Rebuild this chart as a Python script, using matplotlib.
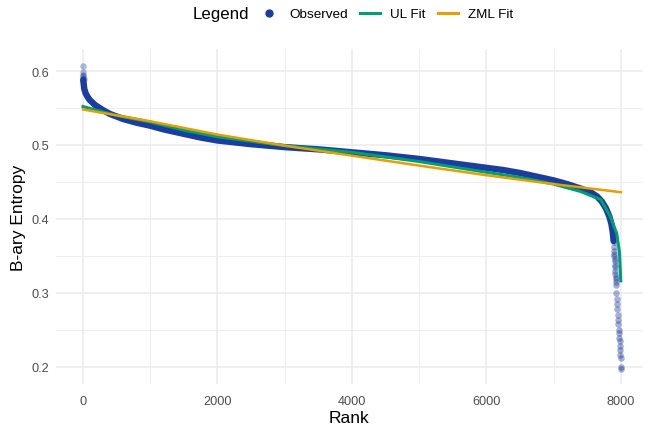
import numpy as np
import matplotlib
matplotlib.use("Agg")
import matplotlib.pyplot as plt
from matplotlib.lines import Line2D
from matplotlib.ticker import MultipleLocator

plt.rcParams['font.family'] = ['Liberation Sans', 'DejaVu Sans']

#------------------------------------------------------------------------------
# Data: ranked B-ary entropy values and the two fitted curves
#------------------------------------------------------------------------------
# sparse head of the observed curve (top ranks)
head_rank = [1, 3, 5, 6, 8, 10]
head_val = [0.607, 0.598, 0.595, 0.593, 0.591, 0.589]

# dense body of the observed curve
body_rank = [5, 20, 40, 70, 100, 180, 300, 400, 600, 800, 1000, 1200, 1500,
             1750, 2000, 2500, 3000, 3500, 4000, 4500, 5000, 5500, 6000,
             6250, 6500, 6750, 7000, 7200, 7400, 7550, 7650, 7720, 7780,
             7830, 7860, 7880, 7893]
body_val = [0.588, 0.576, 0.570, 0.565, 0.561, 0.554, 0.547, 0.542, 0.535,
            0.530, 0.526, 0.521, 0.515, 0.510, 0.506, 0.501, 0.497, 0.494,
            0.490, 0.486, 0.481, 0.475, 0.469, 0.466, 0.462, 0.457, 0.452,
            0.447, 0.441, 0.436, 0.430, 0.423, 0.414, 0.403, 0.393, 0.382,
            0.370]

# sparse tail of the observed curve (lowest ranks)
tail_rank = [7895, 7898, 7900, 7903, 7905, 7908, 7910, 7913, 7915, 7918,
             7920, 7923, 7925, 7928, 7930, 7935, 7940, 7945, 7950, 7955,
             7960, 7965, 7970, 7975, 7980, 7985, 7990, 7993, 7995, 7997,
             7999, 8000]
tail_val = [0.368, 0.362, 0.357, 0.353, 0.350, 0.346, 0.343, 0.338, 0.335,
            0.330, 0.325, 0.321, 0.318, 0.314, 0.310, 0.300, 0.292, 0.285,
            0.278, 0.270, 0.263, 0.257, 0.250, 0.245, 0.238, 0.234, 0.228,
            0.222, 0.216, 0.212, 0.200, 0.197]

ul_rank = [1, 200, 500, 1000, 1500, 2000, 3000, 4000, 5000, 6000, 6500, 7000,
           7400, 7700, 7840, 7940, 7980, 8000]
ul_val = [0.552, 0.547, 0.540, 0.531, 0.520, 0.511, 0.499, 0.490, 0.4775,
          0.463, 0.456, 0.447, 0.437, 0.426, 0.404, 0.380, 0.355, 0.316]

zml_rank = [1, 500, 1000, 1500, 2000, 3000, 4000, 5000, 6000, 7000, 8000]
zml_val = [0.548, 0.540, 0.532, 0.523, 0.514, 0.499, 0.4855, 0.472, 0.459,
           0.447, 0.436]

col_obs = '#1A3D9E'
col_ul = '#009E73'
col_zml = '#E69F00'

#------------------------------------------------------------------------------
# Figure
#------------------------------------------------------------------------------
W, H = 645, 427
fig = plt.figure(figsize=(W/100, H/100), dpi=100)
ax = fig.add_axes([56/W, 1-385/H, 587/W, 335/H])

ax.plot(body_rank, body_val, color=col_obs, lw=4.6, solid_capstyle='round',
        solid_joinstyle='round', zorder=2)
ax.scatter(head_rank, head_val, s=22, color=col_obs, alpha=0.35, lw=0,
           zorder=2)
ax.scatter(tail_rank, tail_val, s=22, color=col_obs, alpha=0.4, lw=0,
           zorder=2)
ax.plot(ul_rank, ul_val, color=col_ul, lw=2.2, zorder=3)
ax.plot(zml_rank, zml_val, color=col_zml, lw=1.8, zorder=4)

ax.set_xlim(-400, 8330)
ax.set_ylim(0.1764, 0.6298)
ax.xaxis.set_major_locator(MultipleLocator(2000))
ax.xaxis.set_minor_locator(MultipleLocator(1000))
ax.yaxis.set_major_locator(MultipleLocator(0.1))
ax.yaxis.set_minor_locator(MultipleLocator(0.05))
ax.set_yticks([0.2, 0.3, 0.4, 0.5, 0.6])
ax.set_yticklabels(['0.2', '0.3', '0.4', '0.5', '0.6'])

ax.grid(which='major', color='#EBEBEB', lw=1.1)
ax.grid(which='minor', color='#EBEBEB', lw=0.6)
ax.set_axisbelow(True)
for s in ax.spines.values():
    s.set_visible(False)
ax.tick_params(which='both', length=0, labelsize=9.2, labelcolor='#4D4D4D')
ax.tick_params(axis='x', pad=8)
ax.tick_params(axis='y', pad=5)

ax.set_xlabel('Rank', fontsize=12.5, labelpad=2)
ax.set_ylabel('B-ary Entropy', fontsize=12.5, labelpad=4)

# legend across the top
fig.text(193/W, 1-15/H, 'Legend', fontsize=12.2, va='center', ha='left')
handles = [
    Line2D([], [], marker='o', color=col_obs, ls='None', markersize=5),
    Line2D([], [], color=col_ul, lw=2.2),
    Line2D([], [], color=col_zml, lw=2.2),
]
fig.legend(handles, ['Observed', 'UL Fit', 'ZML Fit'], ncol=3,
           loc='center left', bbox_to_anchor=(259/W, 1-15/H), frameon=False,
           fontsize=9.7, handlelength=1.5, handletextpad=0.74,
           columnspacing=0.9, borderpad=0, borderaxespad=0)

fig.savefig('out.png', dpi=100)
